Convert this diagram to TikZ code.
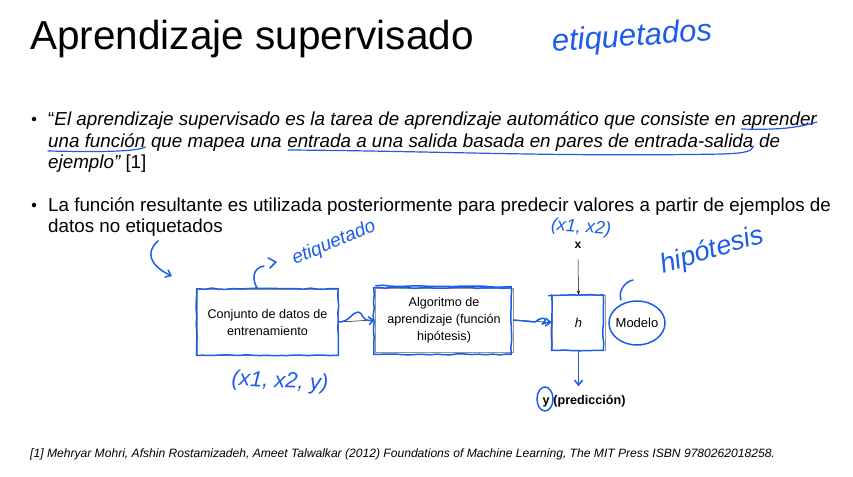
\documentclass[tikz,border=0pt]{standalone}
\usepackage{fontspec}
\setmainfont{Liberation Sans}
\usetikzlibrary{arrows.meta,decorations.pathmorphing,calc}
\definecolor{ink}{RGB}{28,92,235}
\definecolor{frame}{RGB}{150,150,150}
\begin{document}
\begin{tikzpicture}[x=1pt,y=-1pt,
  slidetext/.style={anchor=base west,inner sep=0pt,font=\fontsize{18.8}{22}\selectfont},
  quote/.style={anchor=base west,inner sep=0pt,font=\fontsize{18.8}{22}\selectfont\itshape},
  dot/.style={circle,fill=black,inner sep=0pt,minimum size=4.5pt},
  box/.style={draw=frame,line width=0.6pt,align=center,font=\fontsize{12.6}{17}\selectfont,inner sep=0pt},
  label/.style={inner sep=0pt,font=\fontsize{13}{17}\selectfont},
  flow/.style={line width=0.5pt,-{Stealth[length=4pt,width=3pt]}},
  pen/.style={draw=ink,line width=1.5pt,line cap=round,line join=round},
  rough/.style={pen,decorate,decoration={random steps,segment length=7pt,amplitude=0.6pt}},
  barb/.style={-{Straight Barb[length=5pt,width=8pt]}},
  hand/.style={text=ink,inner sep=0pt,font=\itshape},
]
\useasboundingbox (0,0) rectangle (853,476);
\fill[white] (0,0) rectangle (853,476);

% title
\node[anchor=base west,inner sep=0pt,font=\fontsize{40.5}{41}\selectfont] (title) at (30,50) {Aprendizaje supervisado};

% first bullet: quoted definition
\node[dot] (b1) at (34,119) {};
\node[quote] (l1a) at (48,125) {\upshape“\itshape El aprendizaje supervisado es la tarea de aprendizaje automático que consiste en\ \null};
\node[quote] (l1b) at (l1a.base east) {aprender};
\node[quote] (l2a) at (48,147) {una función};
\node[quote] (l2b) at (l2a.base east) {\ que mapea una\ \null};
\node[quote] (l2c) at (l2b.base east) {entrada a una salida basada en pares de entrada-salida};
\node[quote] (l2d) at (l2c.base east) {\ de};
\node[quote] (l3) at (48,168) {ejemplo”\upshape\ [1]};

% second bullet
\node[dot] (b2) at (34,205) {};
\node[slidetext] (m1) at (48,211) {La función resultante es utilizada posteriormente para predecir valores a partir de ejemplos de};
\node[slidetext] (m2) at (48,232) {datos no etiquetados};

% reference
\node[anchor=base west,inner sep=0pt,font=\fontsize{12.1}{13}\selectfont\itshape] (ref) at (30,457)
  {[1] Mehryar Mohri, Afshin Rostamizadeh, Ameet Talwalkar (2012) Foundations of Machine Learning, The MIT Press ISBN 9780262018258.};

% diagram
\node[box,minimum width=141pt,minimum height=66pt] (data) at (267.5,322) {Conjunto de datos de\\entrenamiento};
\node[box,minimum width=138pt,minimum height=64pt] (algo) at (444,320) {Algoritmo de\\aprendizaje (función\\hipótesis)};
\node[box,minimum width=53pt,minimum height=55pt,font=\fontsize{13}{17}\selectfont\itshape] (h) at (578.5,322.5) {h};
\node[label,font=\fontsize{12}{14}\selectfont\bfseries] (x) at (578,245) {x};
\node[label] (model) at (637,323) {Modelo};
\node[label,font=\fontsize{12.6}{14}\selectfont\bfseries,anchor=base] (y) at (546,404) {y};
\node[label,font=\fontsize{12.6}{14}\selectfont\bfseries,anchor=base west] (pred) at (y.base east) {\ (predicción)};

\draw[flow] (data.east) -- (algo.west);
\draw[flow] (algo.east) -- (h.west);
\draw[flow] ($(x.south)+(0,11)$) -- (h.north);

% handwritten notes
\draw[rough] (data.north west) rectangle (data.south east);
\draw[rough] ($(algo.north west)+(-1,0)$) rectangle ($(algo.south east)+(-2,2)$);
\draw[rough] ($(algo.north west)+(1,-2)$) -- ($(algo.north east)+(-2,-1)$);
\draw[rough] ($(h.north west)+(-3,1)$) -- ($(h.north east)+(-2,0)$);
\draw[rough] ($(h.north west)+(0,0)$) -- ($(h.south west)+(0,0)$) -- ($(h.south east)+(-2,0)$) -- ($(h.north east)+(-2,0)$);

\draw[pen,barb] (data.east) .. controls (350,322) and (352,312) .. (358,312)
  .. controls (364,312) and (360,322) .. (algo.west);
\draw[pen,barb] (algo.east) -- (535,322) .. controls (542,316) and (549,318) .. (543,323)
  .. controls (540,326) and (545,322) .. (h.west);
\draw[pen,barb] (h.south) -- ($(h.south)+(0,36)$);
\draw[pen] (model.center) ellipse (28 and 22);
\draw[pen] (y.center) ++(-1,-3) ellipse (8 and 12);

\draw[pen,line width=1.2pt] ($(l1b.base west)+(0,4)$) .. controls ($(l1b.base)+(0,5)$) and ($(l1b.base east)+(-20,3)$) .. ($(l1b.base east)+(0,-3)$);
\draw[pen,line width=1.2pt] ($(l2a.base west)+(0,4)$) .. controls ($(l2a.base)+(0,5)$) and ($(l2a.base east)+(-10,5)$) .. ($(l2a.base east)+(0,0)$);
\draw[pen,line width=1.2pt] ($(l2c.base west)+(1,3)$) .. controls ($(l2c.base west)+(150,4)$) and ($(l2c.base east)+(-200,10)$) .. ($(l2c.base east)+(-30,7)$)
  .. controls ($(l2c.base east)+(-10,6)$) and ($(l2c.base east)+(-2,5)$) .. ($(l2c.base east)+(0,-1)$);

\node[hand,font=\fontsize{31}{31}\selectfont\itshape,rotate=4] (tag1) at (632,38) {etiquetados};
\node[hand,font=\fontsize{19}{19}\selectfont\itshape,rotate=23] (tag2) at (334,243) {etiquetado};
\draw[pen] (data.north) ++(-10,0) .. controls (252,280) and (252,268) .. (264,266);
\draw[pen] (268,258) -- (276,262) -- (270,268);
\node[hand,font=\fontsize{22}{22}\selectfont\itshape,rotate=-3] (pair3) at (280,382) {(x1, x2, y)};
\node[hand,font=\fontsize{18}{18}\selectfont\itshape,rotate=-4] (pair2) at (581,228) {(x1, x2)};
\node[hand,font=\fontsize{27}{27}\selectfont\itshape,rotate=17] (hyp) at (712,251) {hipótesis};
\draw[pen] (633,280) .. controls (624,282) and (618,292) .. (621,300);
\coordinate (swoopstart) at (158,241);
\coordinate (swoopend) at (172,276);
\draw[pen,barb] (swoopstart) .. controls (145,252) and (150,266) .. (swoopend);
\end{tikzpicture}
\end{document}
